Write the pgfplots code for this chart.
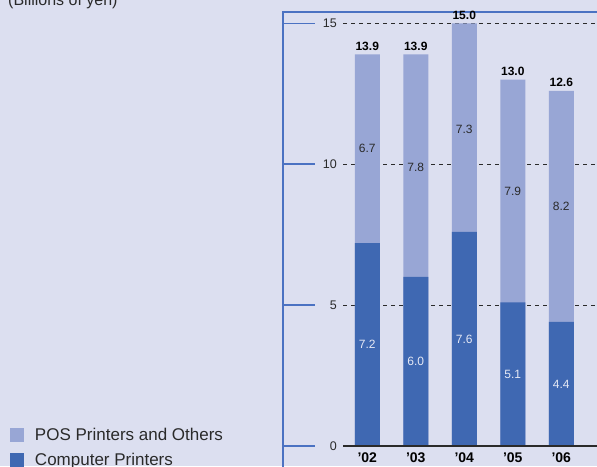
\documentclass[border=0pt]{standalone}
\usepackage{fontspec}
\setmainfont{Liberation Sans}
\usepackage{pgfplots}
\pgfplotsset{compat=1.18}
\usepackage{pgfplotstable}

\definecolor{bgc}{HTML}{DCDFF0}
\definecolor{compc}{HTML}{3F68B2}
\definecolor{posc}{HTML}{98A6D5}
\definecolor{framec}{HTML}{4B72C2}
\definecolor{txtc}{HTML}{2A2A2A}
\definecolor{lightlab}{HTML}{E6E9F5}

% net sales by product, billions of yen
\pgfplotstableread{
x comp pos total
0 7.2 6.7 13.9
1 6.0 7.8 13.9
2 7.6 7.3 15.0
3 5.1 7.9 13.0
4 4.4 8.2 12.6
}\sales

\begin{document}
\begin{tikzpicture}
\fill[bgc] (0,0) rectangle (597pt,466pt);
\begin{axis}[
  at={(343pt,20pt)}, anchor=south west,
  scale only axis, width=254pt, height=434pt,
  xmin=-0.5, xmax=4.737, ymin=0, ymax=15.4,
  axis line style={draw=none},
  major tick length=0pt,
  ytick={0,5,10,15},
  xtick={0,...,4},
  xticklabels={’02,’03,’04,’05,’06},
  ymajorgrids,
  grid style={dash pattern=on 4pt off 4pt, txtc, line width=0.8pt},
  /pgf/number format/assume math mode=true,
  yticklabel style={font=\fontsize{12.5}{14}\selectfont, text=txtc, anchor=east, inner sep=0pt, xshift=-6pt},
  xticklabel style={font=\bfseries\fontsize{14}{16}\selectfont, text=black, anchor=north, inner sep=0pt, yshift=-7pt},
  bar width=25pt,
  clip=false,
  legend cell align=left,
  legend image code/.code={\fill[#1] (0pt,-7pt) rectangle (14pt,7pt);},
  legend style={at={(axis description cs:-1.311,0.0415)}, anchor=north west,
    draw=none, fill=none, inner sep=0pt, outer sep=0pt, row sep=11pt, column sep=11pt,
    font=\fontsize{17}{20}\selectfont,
    nodes={inner sep=0pt, text=txtc}},
]
\addplot[ybar, bar shift=0pt, fill=posc, draw=none] table[x=x, y=total] \sales;
\addlegendentry{POS Printers and Others}
\addplot[ybar, bar shift=0pt, fill=compc, draw=none] table[x=x, y=comp] \sales;
\addlegendentry{Computer Printers}

% segment and total labels
\addplot[draw=none, mark=none, forget plot, nodes near coords, point meta=explicit symbolic,
  every node near coord/.append style={anchor=center, font=\fontsize{12}{14}\selectfont, text=lightlab}]
  table[x=x, y expr=\thisrow{comp}/2, meta=comp] \sales;
\addplot[draw=none, mark=none, forget plot, nodes near coords, point meta=explicit symbolic,
  every node near coord/.append style={anchor=center, font=\fontsize{12}{14}\selectfont, text=txtc}]
  table[x=x, y expr=\thisrow{comp}+\thisrow{pos}/2, meta=pos] \sales;
\addplot[draw=none, mark=none, forget plot, nodes near coords, point meta=explicit symbolic,
  every node near coord/.append style={anchor=base, yshift=4pt, font=\bfseries\fontsize{12}{14}\selectfont, text=black}]
  table[x=x, y=total, meta=total] \sales;

\draw[txtc, line width=1.3pt] (rel axis cs:0,0) -- ([xshift=5pt]rel axis cs:1,0);
\draw[framec, line width=1.4pt] ([xshift=-60pt,yshift=-40pt]rel axis cs:0,0)
  -- ([xshift=-60pt]rel axis cs:0,1) -- ([xshift=5pt]rel axis cs:1,1);
\pgfplotsinvokeforeach{0,5,10,15}{
  \draw[framec, line width=1.4pt] ([xshift=-60pt]axis cs:-0.5,#1) -- ([xshift=-28pt]axis cs:-0.5,#1);
}
\end{axis}
\node[anchor=base west, inner sep=0pt, text=txtc, font=\fontsize{16}{18}\selectfont] at (8pt,460pt) {(Billions of yen)};
\pgfresetboundingbox
\useasboundingbox (0,0) rectangle (597pt,466pt);
\end{tikzpicture}
\end{document}
